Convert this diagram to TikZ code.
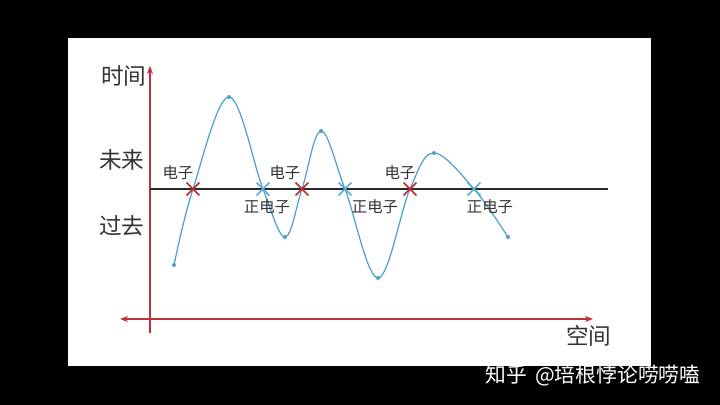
\documentclass[tikz,border=0pt]{standalone}
\usepackage{fontspec}
\setmainfont{Noto Sans CJK SC}
\usetikzlibrary{arrows.meta}
\definecolor{axred}{HTML}{C0303A}
\definecolor{crv}{HTML}{4A9FD0}
\definecolor{xred}{HTML}{C02830}
\definecolor{xblue}{HTML}{5AA9D6}
\definecolor{txt}{HTML}{333333}
\tikzset{
  bigl/.style={font=\fontsize{11.3}{13}\selectfont, text=txt, inner sep=0pt},
  smalll/.style={font=\fontsize{7.7}{9}\selectfont, text=txt, inner sep=0pt},
  dotp/.style={circle, fill=crv, inner sep=0pt, minimum size=2pt},
  xmark/.style={inner sep=0pt, minimum size=6pt},
  axis/.style={axred, line width=0.6pt},
}
\newcommand{\xmk}[3]{% name, position, color
  \node[xmark] (#1) at (#2) {};
  \draw[#3, line width=0.8pt] (#1.north west) -- (#1.south east) (#1.north east) -- (#1.south west);
}
\begin{document}
\begin{tikzpicture}[x=0.5pt,y=-0.5pt]
\fill[black] (0,0) rectangle (720,405);
\fill[white] (68,38) rectangle (651,366);
% axes
\coordinate (ytop) at (150,66);
\coordinate (ybot) at (150,333);
\coordinate (xl) at (120,319);
\coordinate (xr) at (593,319);
\draw[axis, -{Stealth[length=4pt,width=3pt]}] (ybot) -- (ytop);
\draw[axis, {Stealth[length=4pt,width=3pt]}-{Stealth[length=4pt,width=3pt]}] (xl) -- (xr);
% present line
\coordinate (pl) at (150,189);
\coordinate (pr) at (608,189);
\draw[txt!80!black, line width=0.75pt] (pl) -- (pr);
% labels
\node[bigl] (t) at (124,76) {时间};
\node[bigl] (f) at (122,160) {未来};
\node[bigl] (p) at (122,226) {过去};
\node[bigl] (s) at (589,336) {空间};
% curve
\draw[crv, line width=0.6pt] plot[smooth, tension=0.6] coordinates {
 (174,265) (193,189) (229,97) (263,189) (285,237) (302,189) (321,131) (345,189) (378,278) (410,189) (434,153) (474,189) (508,237)};
\foreach \n/\p in {d1/{174,265}, d2/{229,97}, d3/{285,237}, d4/{321,131}, d5/{378,278}, d6/{434,153}, d7/{508,237}}
  \node[dotp] (\n) at (\p) {};
% crossings
\xmk{e1}{193,189}{xred}
\xmk{b1}{263,189}{xblue}
\xmk{e2}{302,189}{xred}
\xmk{b2}{345,189}{xblue}
\xmk{e3}{410,189}{xred}
\xmk{b3}{474,189}{xblue}
\node[smalll] (le1) at (178,173) {电子};
\node[smalll] (le2) at (285,173) {电子};
\node[smalll] (le3) at (400,173) {电子};
\node[smalll] (lb1) at (267,207) {正电子};
\node[smalll] (lb2) at (375,207) {正电子};
\node[smalll] (lb3) at (490,207) {正电子};
% watermark
\node[font=\fontsize{10.4}{12}\selectfont, text=white, anchor=west, inner sep=0pt] (wm) at (485,376) {知乎\hspace{0.4em}@培根悖论唠唠嗑};
\end{tikzpicture}
\end{document}
